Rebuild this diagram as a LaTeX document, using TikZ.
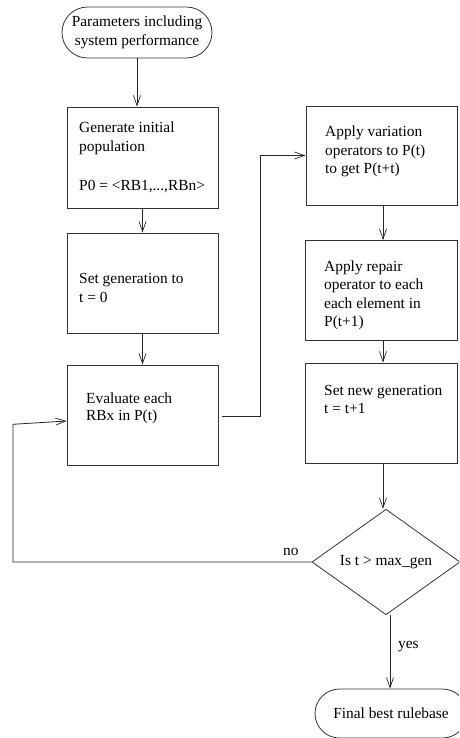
\documentclass[tikz,border=0pt]{standalone}
\usepackage{fontspec}
\setmainfont{Liberation Serif}
\usetikzlibrary{arrows.meta,shapes.geometric,shapes.misc}

\begin{document}
\begin{tikzpicture}[x=1pt,y=-1pt,
  every node/.style={font=\fontsize{15.4}{18.5}\selectfont},
  line/.style={draw=black!85, line width=0.8pt},
  flow/.style={line, -{Straight Barb[length=10pt,width=7pt,line width=0.7pt]}},
  procbox/.style={draw=black!80, line width=0.9pt, rectangle, minimum width=151pt,
    minimum height=100pt, inner sep=0pt},
  terminal/.style={draw=black!80, line width=0.8pt, rounded rectangle, minimum width=150pt,
    minimum height=51pt, inner sep=0pt, align=center},
  decision/.style={draw=black!80, line width=0.8pt, diamond, minimum width=148pt,
    minimum height=100pt, inner sep=0pt},
  txt/.style={anchor=base west, inner sep=0pt}
]
\useasboundingbox (0,0) rectangle (459,738);
\clip (0,0) rectangle (459,738);

% terminals
\node[terminal] (start) at (137,32.5) {Parameters including\\system performance};
\node[terminal, minimum width=152pt, minimum height=49pt] (finish) at (391,713.5) {Final best rulebase};

% process boxes, left column
\node[procbox, minimum height=101pt] (gen) at (142.5,157.5) {};
\node[procbox] (setg) at (142.5,283) {};
\node[procbox] (eval) at (142.5,415) {};

% process boxes, right column
\node[procbox, minimum height=99pt] (vary) at (381.5,155.5) {};
\node[procbox, minimum width=152pt] (repair) at (381,290) {};
\node[procbox, minimum width=152pt] (newg) at (381,413) {};

% decision
\node[decision] (test) at (386,562) {Is t > max\_gen};

% box texts
\node[txt] (gen1) at (79,132.7) {Generate initial};
\node[txt] (gen2) at (79,151.5) {population};
\node[txt] (gen3) at (79,190) {P0 = <RB1,...,RBn>};
\node[txt] (setg1) at (79,283) {Set generation to};
\node[txt] (setg2) at (79,302) {t = 0};
\node[txt] (eval1) at (86,403) {Evaluate each};
\node[txt] (eval2) at (86,420.5) {RBx in P(t)};
\node[txt] (vary1) at (325,137) {Apply variation};
\node[txt] (vary2) at (325,155.5) {operators to P(t)};
\node[txt] (vary3) at (325,174) {to get P(t+t)};
\node[txt] (rep1) at (324,271) {Apply repair};
\node[txt] (rep2) at (324,289.5) {operator to each};
\node[txt] (rep3) at (324,308) {each element in};
\node[txt] (rep4) at (324,326.5) {P(t+1)};
\node[txt] (newg1) at (324,395) {Set new generation};
\node[txt] (newg2) at (324,413.5) {t = t+1};

% branch labels
\node[txt] (nolbl) at (283,555) {no};
\node[txt] (yeslbl) at (398,648) {yes};

% connectors
\draw[flow] (start.south) -- (start.south |- gen.north);
\draw[flow] (gen.south) -- (setg.north);
\draw[flow] (setg.south) -- (eval.north);
\coordinate (evalout) at (222,416.7);
\coordinate (bend) at (260,416.7);
\draw[flow] (evalout) -- (bend) |- (vary.west);
\draw[flow] (383,205) -- (383,240);
\draw[flow] (repair.south -| 383,0) -- (newg.north -| 383,0);
\draw[flow] (newg.south -| 383,0) -- (test.north -| 383,0);
\draw[flow] (test.south -| 390,0) -- (finish.north -| 390,0);
\coordinate (loopcorner) at (13,562);
\coordinate (looptop) at (13,424.3);
\draw[flow] (test.west) -- (loopcorner) -- (looptop) -- (eval.west |- 0,421);
\end{tikzpicture}
\end{document}
